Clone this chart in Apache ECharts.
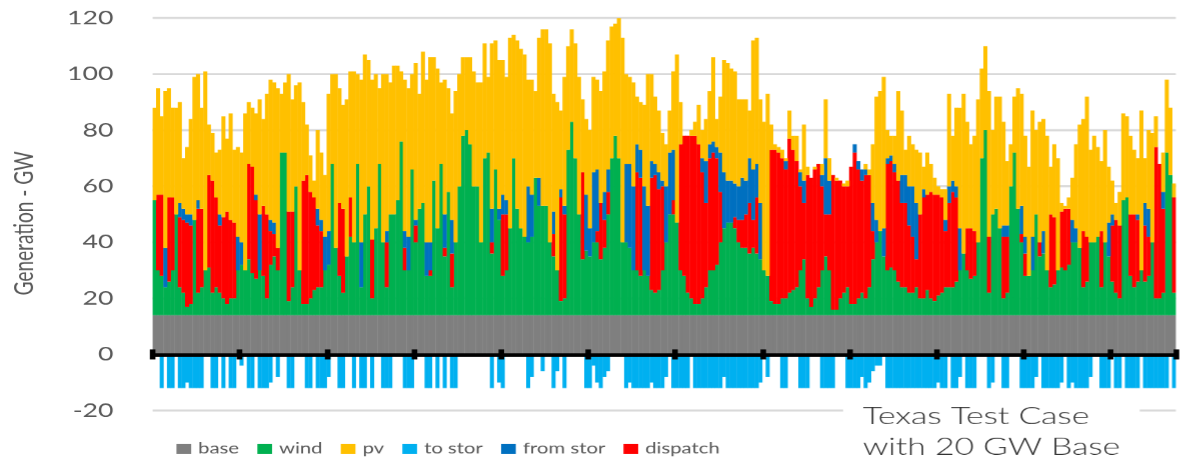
<!DOCTYPE html>
<html>
<head>
<meta charset="utf-8">
<title>Texas Test Case</title>
<script src="https://cdn.jsdelivr.net/npm/echarts@6/dist/echarts.min.js"></script>
<style>
  html, body { margin: 0; padding: 0; background: #fff; overflow: hidden; }
  /* the source picture is stretched sideways, so draw narrow and stretch */
  #chart { width: 851px; height: 462px; transform: scaleX(1.4); transform-origin: 0 0; }
</style>
</head>
<body>
<div id="chart"></div>
<script>
// GW, one value per bar (hour)
const baseLoad = 14;

const wind = [
  41,16,14,10,12,16,36,10,8,3,4,34,8,10,16,17,8,10,8,6,4,6,6,16,18,16,20,15,13,16,14,6,18,21,16,58,58,5,10,46,16,4,4,6,9,10,10,16,
  18,54,24,14,8,21,28,26,54,10,36,46,6,31,54,26,10,36,36,41,62,16,16,52,26,38,40,14,14,48,31,54,21,44,10,26,46,64,66,61,46,46,26,56,58,22,52,34,
  14,16,31,56,38,31,28,26,28,49,39,39,39,26,21,16,5,6,59,69,56,36,20,23,21,26,26,20,24,36,56,64,56,26,26,24,16,16,14,16,14,9,8,9,16,26,36,36,
  33,16,14,8,6,4,4,6,10,16,16,18,26,31,33,33,31,26,24,24,22,24,22,20,16,14,5,4,4,6,6,8,9,10,16,20,6,3,6,10,16,21,16,2,2,6,8,10,
  4,4,6,8,6,10,20,26,30,21,16,17,16,12,10,10,8,8,10,6,6,9,6,5,7,8,10,10,10,12,16,22,16,13,14,26,56,66,8,36,38,31,6,8,46,58,38,26,
  14,14,16,36,21,22,16,10,11,16,17,16,18,26,26,24,10,12,26,26,28,10,26,21,12,8,6,41,42,14,10,12,16,12,14,26,6,6,8,58,50,8
];

const pv = [
  33,38,28,56,39,32,38,36,18,24,34,51,45,36,71,18,17,16,23,36,26,38,26,32,32,56,22,21,29,41,31,43,50,50,57,21,25,49,40,36,67,28,18,13,6,28,24,22,
  49,32,62,41,37,56,45,61,32,58,57,45,57,55,27,60,56,47,53,48,25,54,53,34,56,41,54,58,66,44,57,29,48,37,38,54,40,28,26,31,41,37,57,41,27,59,46,53,
  48,44,68,44,60,64,65,38,41,31,50,63,63,71,42,60,28,46,37,33,41,49,26,27,35,34,32,40,43,46,47,40,50,73,32,31,37,17,17,29,47,31,24,22,17,15,15,28,
  60,15,0,0,2,5,14,10,15,19,30,10,20,40,42,40,40,31,28,29,17,46,45,37,53,65,9,2,2,3,1,10,5,9,1,20,3,0,1,0,4,21,8,0,1,0,1,2,
  0,0,0,0,2,2,21,44,50,54,10,7,10,32,23,9,18,15,19,22,8,15,10,6,3,3,11,33,16,28,43,57,38,30,34,51,32,30,52,30,40,47,37,23,15,20,43,40,
  36,39,45,30,43,40,48,17,26,40,3,1,4,15,30,44,40,50,33,38,32,25,40,20,12,6,12,31,29,28,23,20,57,16,28,39,11,0,14,26,24,5
];

const toStor = [
  0,0,-12,0,-12,-12,0,-12,-12,-10,-12,-12,-12,-12,0,0,-12,-12,0,-12,0,-12,-12,0,-4,0,-12,-12,0,-12,-12,-12,-10,0,-8,0,0,-12,-12,0,0,0,-12,-12,0,-12,-12,-12,
  -8,0,0,-12,-12,0,0,-12,0,-12,-12,0,-12,0,0,-12,-12,-12,0,0,0,-12,-12,-12,0,0,0,-12,-12,0,-12,0,-12,0,-12,-12,0,0,0,0,0,0,0,0,0,-12,0,-10,
  -12,0,0,0,0,0,0,-12,-8,0,0,-6,0,0,-12,-6,0,-12,0,0,0,0,0,-12,-12,-4,-10,-12,-8,-6,0,0,0,0,-12,-10,-12,-12,-12,-12,-12,-10,-12,-12,-12,-8,0,-12,
  -12,-12,-12,-12,0,-12,-12,-12,-12,-12,-12,-12,-12,-8,-12,-12,-12,-12,-12,-12,-12,-12,-12,-10,0,-8,0,0,0,-12,-12,0,0,0,-12,-12,-12,0,0,0,-12,-12,-12,-12,0,0,0,-12,
  -12,-12,-12,-8,-12,-10,-6,-4,-4,0,-12,-12,-12,-12,-12,-12,-12,-12,-12,-12,-12,-12,-12,-12,-10,-12,-12,0,-12,-12,-8,0,-12,-12,-12,0,0,0,-12,-10,0,0,-12,-12,0,0,0,-12,
  -12,-12,-12,-8,0,-12,-12,-12,-12,-12,-10,0,-12,-10,-12,-12,-12,-12,-8,0,0,-12,-12,-12,0,-12,-12,0,-12,-12,-12,-12,0,-12,-12,-12,-12,-12,-12,-12,0,-12
];

const fromStor = [
  0,0,0,14,0,0,0,5,4,3,4,0,3,0,0,0,0,0,4,0,0,0,0,12,8,0,0,0,2,20,0,0,4,4,0,0,0,0,0,0,0,0,0,0,0,6,4,12,
  12,0,0,0,0,0,0,0,0,16,0,0,0,0,0,0,4,0,0,0,0,6,12,0,2,0,0,12,10,0,0,0,12,0,12,0,0,0,0,0,0,0,0,0,0,12,0,4,
  7,5,0,0,0,0,0,20,15,0,10,0,0,0,8,0,3,3,0,0,0,0,0,20,10,25,22,0,10,8,0,0,0,0,28,30,30,10,10,30,25,6,4,6,2,20,22,18,
  0,0,0,0,0,0,0,5,15,5,4,4,14,20,15,15,12,12,15,12,16,18,12,20,0,0,0,0,0,0,3,0,0,0,5,8,0,0,0,0,4,20,12,0,0,0,0,0,
  0,3,3,4,2,0,10,8,0,10,2,2,3,0,10,10,14,18,20,0,3,0,0,0,0,0,4,6,4,4,15,0,0,0,0,0,0,0,0,0,0,0,4,4,0,0,0,10,
  6,0,12,0,0,8,0,0,0,0,0,0,0,8,5,0,0,0,0,0,0,0,0,12,4,0,0,0,0,0,0,2,0,8,10,0,0,0,6,0,0,0
];

const dispatch = [
  0,27,29,0,30,26,0,25,26,30,28,0,30,28,0,33,40,32,24,29,33,28,27,0,0,0,34,38,28,0,25,30,12,8,8,0,0,32,27,0,0,44,46,38,33,22,20,0,
  0,0,0,26,30,0,14,0,0,0,0,0,21,0,0,0,16,0,0,0,0,8,0,0,6,0,0,0,2,0,0,0,3,0,12,0,0,0,0,0,0,0,0,0,0,4,0,0,
  22,20,0,0,0,0,0,0,0,0,0,0,0,0,8,0,37,30,0,0,0,0,31,0,0,0,4,20,10,8,0,0,0,0,0,0,0,35,35,0,0,40,42,36,30,0,0,5,
  0,45,50,56,58,60,57,45,30,40,42,38,18,0,0,0,4,8,10,12,18,10,20,0,0,0,54,55,54,50,46,55,50,45,30,20,44,46,46,44,30,15,20,48,46,42,38,36,
  49,54,46,40,44,40,10,0,0,0,38,38,35,36,30,30,24,20,10,30,36,34,38,38,36,34,20,30,34,30,0,0,15,18,16,0,0,0,20,0,0,0,22,20,0,0,0,3,
  8,0,0,0,5,0,0,26,24,0,20,22,20,0,0,0,20,16,0,0,0,20,0,0,20,26,26,0,0,22,26,22,0,20,14,0,54,48,30,0,0,34
];

const hours = wind.map((_, i) => i + 1);
const legendNames = ['base', 'wind', 'pv', 'to stor', 'from stor', 'dispatch'];
const yTicks = { min: -20, max: 120, step: 20 };

const font = 'Lato';
const textGrey = '#595959';

const gridBox = { left: 105, right: 11.4, top: 18, bottom: 52 };
const plotHeight = 462 - gridBox.top - gridBox.bottom;
// pull the upper tick row down from the top edge to the zero line
const zeroOffset = -plotHeight * yTicks.max / (yTicks.max - yTicks.min);

function stackBar(name, data, color) {
  return {
    name: name,
    type: 'bar',
    stack: 'gen',
    data: data,
    barWidth: 2.9,
    z: 1,
    itemStyle: { color: color },
    emphasis: { disabled: true }
  };
}

const tickStyle = { show: true, interval: 23, length: 5, lineStyle: { color: '#000', width: 4 } };

const chart = echarts.init(document.getElementById('chart'), null, { devicePixelRatio: 1.4 });

const series = [
  stackBar('base', hours.map(() => baseLoad), '#7f7f7f'),
  stackBar('wind', wind, '#00b050'),
  stackBar('dispatch', dispatch, '#ff0000'),
  stackBar('from stor', fromStor, '#0070c0'),
  stackBar('pv', pv, '#ffc000'),
  stackBar('to stor', toStor, '#00b0f0')
];
// black zero line drawn over the bars
series[0].markLine = {
  silent: true,
  symbol: 'none',
  z: 20,
  label: { show: false },
  lineStyle: { color: '#000', width: 3, type: 'solid' },
  data: [{ yAxis: 0 }]
};

chart.setOption({
  animation: false,
  title: {
    text: 'Texas Test Case\nwith 20 GW Base',
    left: 602,
    top: 398,
    backgroundColor: '#fff',
    padding: [2, 14, 2, 14],
    textStyle: { fontFamily: font, fontSize: 24, fontWeight: 300, color: '#333', lineHeight: 31 }
  },
  legend: {
    data: legendNames,
    left: 121,
    top: 436,
    icon: 'rect',
    itemWidth: 10.5,
    itemHeight: 10,
    itemGap: 13,
    textStyle: { fontFamily: font, fontSize: 14.5, color: textGrey }
  },
  grid: gridBox,
  xAxis: [
    {
      type: 'category',
      data: hours,
      z: 10,
      axisLine: { show: true, onZero: true, lineStyle: { color: '#000', width: 3 } },
      axisTick: tickStyle,
      axisLabel: { show: false },
      splitLine: { show: false }
    },
    {
      // same axis again, only to draw the upper half of each tick
      type: 'category',
      data: hours,
      position: 'top',
      offset: zeroOffset,
      z: 10,
      axisLine: { show: true, onZero: false, lineStyle: { color: '#000', width: 3 } },
      axisTick: tickStyle,
      axisLabel: { show: false },
      splitLine: { show: false }
    }
  ],
  yAxis: {
    type: 'value',
    min: yTicks.min,
    max: yTicks.max,
    interval: yTicks.step,
    axisLine: { show: false },
    axisTick: { show: false },
    axisLabel: { fontFamily: font, fontSize: 19, color: textGrey, margin: 28 },
    splitLine: { lineStyle: { color: '#d9d9d9', width: 2 } },
    name: 'Generation - GW',
    nameLocation: 'middle',
    nameRotate: 90,
    nameGap: 82,
    nameTextStyle: { fontFamily: font, fontSize: 19, color: textGrey, padding: [0, 18, 0, 0] }
  },
  series: series
});
</script>
</body>
</html>
